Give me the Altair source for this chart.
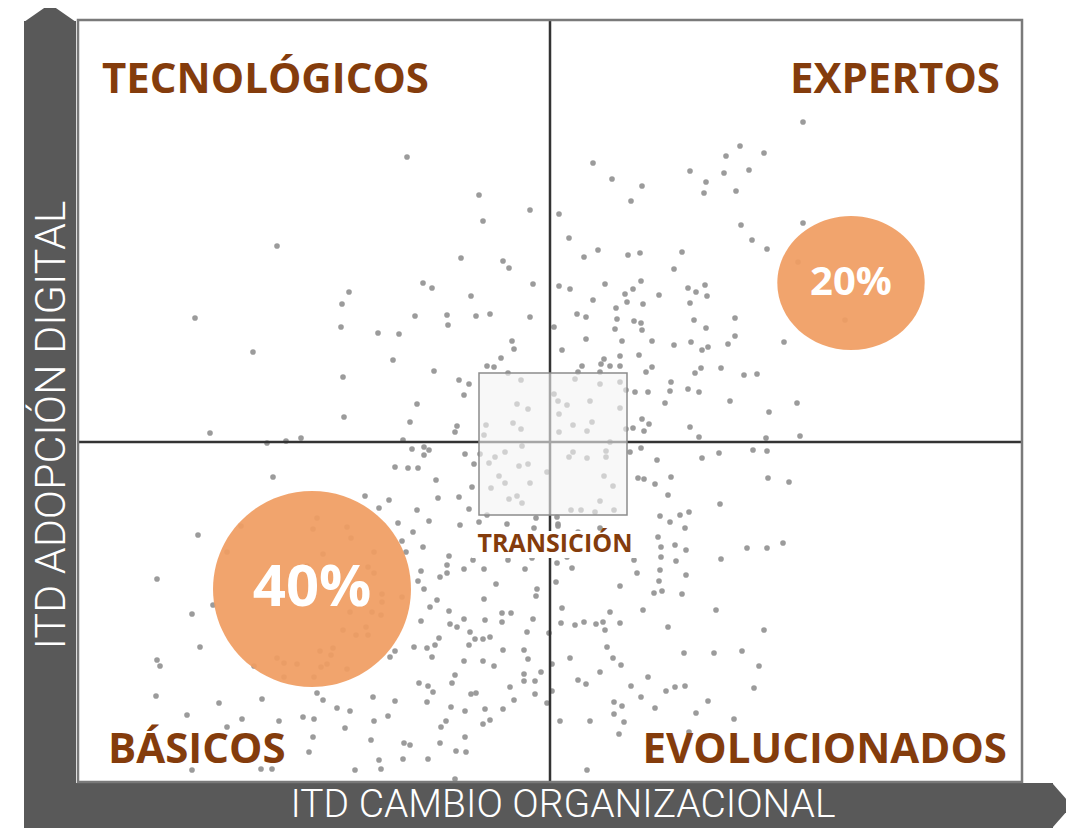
import altair as alt
import pandas as pd

# ---- Empresas: (ITD cambio organizacional, ITD adopción digital) ----
fila1_izq = [(32.9, 62.5), (40.1, 58.7), (45.2, 57.2), (40.5, 56.1), (19.9, 53.6), (38.3, 52.4), (42.5, 52.1), (43.1, 51.4)]
fila1_der = [(72.5, 66.0), (66.2, 63.6), (64.8, 62.6), (68.6, 62.9), (51.5, 61.9), (61.2, 61.1), (64.6, 60.9), (67.1, 61.2),
             (53.4, 60.3), (62.8, 60.0), (56.4, 59.6), (62.6, 58.9), (65.8, 59.1), (55.3, 58.1), (48.1, 56.8), (66.3, 55.7),
             (72.5, 55.9), (49.1, 54.4), (67.4, 54.2), (50.6, 52.5), (52.0, 53.2), (55.0, 52.7), (56.2, 52.9), (60.4, 53.0),
             (68.9, 53.3), (72.0, 52.0), (59.6, 51.3)]
fila2_izq = [(34.5, 49.9), (35.4, 49.4), (27.1, 49.0), (45.5, 49.8), (39.3, 48.6), (26.4, 47.8), (11.7, 46.4), (33.7, 46.6), (36.9, 46.7), (37.0, 45.7),
             (39.8, 46.6), (41.2, 46.8), (45.2, 46.5), (26.3, 45.5), (30.0, 44.9), (32.1, 44.8), (43.4, 44.1), (43.6, 43.3), (17.5, 43.0), (31.5, 42.2),
             (42.3, 42.4), (40.9, 41.6), (41.6, 41.5), (35.6, 41.1), (26.5, 40.5), (38.1, 40.2), (39.1, 39.8), (43.0, 40.9), (38.6, 38.7), (44.3, 40.2),
             (33.9, 37.8), (43.9, 37.8), (45.0, 37.3), (26.6, 36.5), (33.2, 36.0), (43.5, 35.9), (40.8, 35.7), (44.3, 35.3), (37.9, 35.6), (37.7, 35.0),
             (40.6, 34.7), (13.2, 34.9), (18.9, 33.9), (20.8, 34.1), (22.3, 34.4), (32.5, 34.2), (44.4, 33.6), (33.4, 33.3), (34.6, 33.5), (35.1, 33.2),
             (34.6, 32.7), (38.7, 32.8), (40.2, 32.8), (41.7, 32.5), (42.7, 33.0), (39.6, 31.8), (41.1, 31.9), (44.1, 31.6), (45.0, 31.8), (31.7, 31.5),
             (33.0, 31.4), (34.0, 31.4), (19.5, 30.5), (46.9, 31.0), (42.1, 30.6), (42.7, 29.9), (45.2, 29.9), (35.8, 30.2), (39.4, 29.5), (41.3, 29.4),
             (28.7, 28.6), (31.1, 28.2), (36.0, 28.4), (38.1, 28.5), (43.1, 28.3), (43.9, 28.6), (44.4, 27.9), (30.1, 27.4), (33.9, 27.2), (39.1, 27.3),
             (40.9, 26.7), (45.8, 26.4), (23.9, 26.4), (32.0, 25.9), (35.1, 26.1), (40.1, 26.0), (42.9, 25.8), (38.2, 25.7)]
fila2_der = [(48.1, 49.6), (49.2, 49.3), (52.7, 49.8), (56.3, 50.1), (55.5, 49.3), (54.7, 48.8), (58.1, 48.7), (61.0, 49.4), (61.8, 49.0), (62.7, 49.7),
             (62.9, 48.6), (51.5, 48.2), (54.9, 48.0), (56.5, 47.8), (61.2, 47.9), (53.8, 47.4), (49.9, 46.8), (50.8, 46.5), (53.9, 46.3), (55.6, 46.1),
             (56.3, 45.9), (61.6, 46.2), (65.7, 46.4), (47.6, 45.5), (53.7, 45.3), (56.4, 45.2), (62.8, 45.4), (50.8, 44.3), (54.4, 44.1), (57.4, 44.1),
             (59.6, 43.7), (61.3, 44.0), (65.7, 44.6), (65.0, 43.8), (70.6, 44.0), (76.7, 46.2), (48.4, 43.2), (54.2, 42.6), (56.1, 42.7), (62.4, 43.2),
             (63.0, 43.5), (52.6, 42.3), (50.4, 41.6), (52.3, 41.8), (53.2, 41.6), (54.2, 41.6), (50.0, 41.0), (52.2, 41.0), (56.8, 41.0), (57.4, 41.5),
             (62.3, 41.4), (61.7, 40.9), (64.3, 41.4), (66.6, 40.7), (67.9, 40.8), (49.7, 40.3), (52.2, 39.8), (54.2, 40.0), (59.3, 40.0), (54.8, 39.2),
             (55.7, 39.0), (57.0, 39.0), (59.2, 39.1), (61.0, 39.3), (62.1, 39.0), (47.6, 38.8), (48.0, 38.1), (48.9, 37.7), (51.2, 38.1), (54.2, 37.4),
             (58.7, 37.9), (65.2, 38.1), (71.9, 37.9), (48.1, 36.8), (69.1, 37.0), (51.4, 36.0), (49.5, 35.7), (50.9, 35.1), (48.1, 35.0), (54.8, 35.3),
             (55.5, 35.4), (56.4, 36.3), (57.1, 35.8), (56.6, 35.1), (61.2, 35.5), (62.1, 34.5), (68.8, 34.4), (72.2, 34.6), (53.2, 34.0), (49.5, 33.0),
             (49.1, 32.5), (50.9, 32.4), (52.8, 33.1), (52.8, 32.5), (55.2, 33.0), (56.3, 33.4), (57.9, 32.2), (62.4, 32.4), (64.1, 32.9), (67.5, 33.2),
             (68.9, 33.1), (52.6, 30.6), (53.5, 29.6), (56.0, 30.4), (56.6, 30.3), (57.7, 29.8), (59.3, 30.5), (69.0, 30.4), (71.1, 30.0), (59.0, 28.7),
             (52.2, 28.1), (49.3, 27.2), (50.3, 27.2), (51.7, 27.0), (53.6, 27.2), (64.2, 27.8), (47.9, 26.5), (58.2, 26.6), (60.2, 26.7), (61.1, 27.0),
             (59.2, 26.0), (48.0, 25.8)]
fila3_izq = [(12.0, 24.7), (16.3, 25.6), (23.5, 25.3), (26.9, 25.5), (27.3, 24.4), (33.5, 25.0), (45.6, 25.4), (32.4, 24.1), (34.5, 23.5), (32.8, 23.0),
             (14.9, 23.0), (24.5, 22.8), (29.6, 23.0), (37.1, 22.6), (39.5, 22.2), (40.6, 21.3), (38.6, 21.3), (36.9, 21.7), (36.9, 20.9), (36.2, 20.5),
             (34.3, 21.1), (34.0, 20.1), (34.6, 19.3), (43.0, 22.2), (45.4, 22.4), (44.7, 21.3), (41.8, 19.8), (45.9, 19.3), (45.8, 18.6), (22.9, 21.6),
             (29.0, 21.5), (29.6, 20.9), (7.9, 20.3), (30.4, 18.8), (30.4, 18.0), (32.4, 18.5), (35.9, 18.2), (40.6, 18.3), (35.2, 17.5), (37.1, 17.1),
             (11.4, 16.8), (13.5, 17.7), (27.2, 17.0), (29.4, 17.0), (30.3, 16.7), (42.4, 16.9), (43.3, 16.9), (34.3, 16.1), (37.2, 15.8), (37.9, 15.5),
             (38.6, 16.3), (40.7, 16.2), (42.4, 16.0), (45.5, 16.3), (26.5, 15.2), (28.8, 15.5), (27.8, 14.7), (29.0, 14.7), (39.2, 15.0), (44.9, 15.0),
             (36.1, 14.4), (39.7, 14.3), (40.5, 14.3), (41.2, 14.5), (39.1, 13.7), (35.7, 13.7), (34.9, 13.4), (33.6, 13.5), (12.2, 13.5), (25.5, 13.4),
             (24.2, 13.1), (25.3, 12.7), (31.7, 13.1), (31.2, 12.5), (35.4, 12.5), (42.5, 13.2), (44.6, 13.2), (45.0, 12.3), (47.1, 14.9), (7.9, 12.2),
             (8.2, 11.6), (19.9, 12.4), (20.6, 11.9), (21.9, 11.8), (24.3, 11.5), (24.9, 11.8), (26.9, 11.3), (17.6, 11.6), (20.6, 10.5), (23.6, 10.5),
             (38.6, 12.1), (40.5, 12.1), (41.6, 11.6), (37.7, 10.7), (37.4, 9.9), (34.1, 9.9), (35.0, 9.6), (35.5, 9.0), (44.6, 10.8), (46.3, 11.0),
             (44.6, 10.1), (45.7, 10.1), (43.2, 9.5), (45.7, 8.8), (43.6, 8.2), (46.9, 7.9), (39.8, 8.9), (39.3, 8.8), (7.8, 8.6), (23.9, 8.9),
             (24.5, 8.2), (29.5, 8.5), (31.7, 8.1), (34.9, 8.0), (37.3, 7.5), (38.7, 7.1), (40.7, 7.3), (42.5, 7.3), (18.4, 8.3), (14.1, 7.9),
             (10.9, 6.7), (16.4, 6.3), (20.1, 6.1), (22.5, 6.5), (23.6, 6.3), (25.9, 7.4), (27.2, 7.1), (29.6, 6.1), (31.0, 6.6), (14.9, 5.5),
             (26.7, 5.4), (36.8, 6.1), (36.3, 5.5), (40.5, 5.8), (41.2, 6.2), (23.5, 4.5), (29.3, 4.2), (32.6, 3.9), (33.2, 3.7), (36.2, 3.9),
             (38.7, 4.5), (23.1, 3.0), (37.8, 3.1), (38.8, 3.0), (32.5, 2.3), (35.0, 2.3), (30.1, 2.2), (30.3, 1.3), (27.7, 1.2), (11.4, 1.2),
             (18.3, 1.3), (19.4, 1.3), (37.7, 0.3)]
fila3_der = [(48.0, 25.6), (50.0, 25.0), (52.2, 25.4), (60.7, 25.4), (58.0, 24.5), (58.3, 23.5), (59.7, 23.7), (60.8, 23.2), (66.9, 23.4), (68.9, 23.4),
             (70.5, 23.9), (48.9, 22.5), (50.6, 22.7), (51.5, 22.7), (47.9, 21.9), (49.4, 21.4), (55.6, 22.2), (58.3, 22.5), (59.8, 22.1), (64.3, 22.3),
             (55.9, 20.9), (58.2, 21.2), (60.8, 20.7), (47.8, 20.0), (54.2, 19.6), (58.1, 20.1), (57.6, 18.9), (58.4, 19.1), (60.4, 18.8), (48.4, 17.4),
             (53.2, 17.0), (56.5, 17.2), (63.8, 17.2), (48.3, 15.9), (49.7, 15.7), (50.6, 16.0), (51.8, 15.8), (52.5, 16.0), (52.7, 15.2), (54.2, 15.9),
             (59.0, 15.5), (68.6, 15.2), (52.9, 13.5), (49.2, 12.4), (53.5, 12.4), (54.3, 11.7), (60.6, 12.9), (63.6, 12.9), (66.4, 13.1), (68.1, 11.6),
             (47.4, 11.8), (52.2, 11.0), (57.0, 10.5), (50.0, 10.2), (50.8, 9.8), (55.3, 9.6), (59.7, 9.5), (60.7, 9.6), (58.8, 9.1), (67.6, 9.4),
             (47.4, 9.1), (56.3, 8.5), (53.6, 8.0), (54.4, 7.6), (63.0, 8.1), (57.7, 7.4), (53.6, 6.8), (61.8, 6.9), (48.2, 6.1), (51.2, 6.1),
             (54.6, 6.0), (65.6, 6.3), (54.1, 4.8), (61.1, 5.0), (50.9, 1.2)]

# ---- Ejes / cuadrantes ----
dominio_x = [0, 94.4]
dominio_y = [0, 76.2]
corte_x = 47.2
corte_y = 34.0
marcas_y = [13.4, 27.2, 41.0, 54.7, 68.6]

# zona de transición
transicion = {"x": 40.1, "x2": 54.9, "y": 40.9, "y2": 26.7}

# cuadrantes: etiqueta, x, y
cuad_izq = [("TECNOLÓGICOS", 2.4, 68.9), ("BÁSICOS", 3.0, 1.9)]
cuad_der = [("EXPERTOS", 92.2, 68.9), ("EVOLUCIONADOS", 92.9, 1.9)]

# burbujas de porcentaje: texto, x, y
burbujas = [("20%", 77.3, 49.9), ("40%", 23.4, 19.3)]

# ---------------------------------------------------------------
rows = []
for grupo in (fila1_izq, fila1_der, fila2_izq, fila2_der, fila3_izq, fila3_der):
    for cx, cy in grupo:
        rows.append({"cambio": cx, "adopcion": cy})
df = pd.DataFrame(rows)

W, H = 944, 762
BROWN = "#843c0c"
ORANGE = "#f09d62"
DARK = "#595959"
LABEL_FONT = "Open Sans"
TITLE_FONT = "Roboto"

xs = alt.Scale(domain=dominio_x, nice=False, zero=False)
ys = alt.Scale(domain=dominio_y, nice=False, zero=False)
one = alt.Data(values=[{}])

X = lambda f: alt.X(f, type="quantitative", scale=xs, axis=None)
Y = lambda f: alt.Y(f, type="quantitative", scale=ys, axis=None)

points = alt.Chart(df).mark_circle(size=32, color="#969696", opacity=0.95).encode(
    x=X("cambio"),
    y=alt.Y("adopcion:Q", scale=ys,
            axis=alt.Axis(values=marcas_y, labels=False, domain=False, grid=False,
                          ticks=True, tickSize=4, tickColor="#333333", tickWidth=1.5, title=None)),
)

vline = alt.Chart(pd.DataFrame({"x": [corte_x]})).mark_rule(color="#333333", strokeWidth=2.5).encode(x=X("x"))
hline = alt.Chart(pd.DataFrame({"y": [corte_y]})).mark_rule(color="#333333", strokeWidth=2.5).encode(y=Y("y"))

box = alt.Chart(pd.DataFrame([transicion])).mark_rect(
    fill="#f4f4f4", fillOpacity=0.6, stroke="#8c8c8c", strokeWidth=1.5
).encode(x=X("x"), x2="x2", y=Y("y"), y2="y2")

frame = alt.Chart(one).mark_rect(fillOpacity=0, stroke="#7a7a7a", strokeWidth=2.5).encode(
    x=alt.value(0), x2=alt.value(W), y=alt.value(0), y2=alt.value(H))

trans_bg = alt.Chart(pd.DataFrame({"x": [39.4], "x2": [56.2], "y": [25.1], "y2": [22.4]})).mark_rect(
    fill="white").encode(x=X("x"), x2="x2", y=Y("y"), y2="y2")
trans_txt = alt.Chart(pd.DataFrame({"t": ["TRANSICIÓN"], "x": [47.7], "y": [23.0]})).mark_text(
    font=LABEL_FONT, fontWeight="bold", fontSize=25, color=BROWN, align="center", baseline="alphabetic"
).encode(x=X("x"), y=Y("y"), text="t:N")

bub_df = pd.DataFrame(burbujas, columns=["t", "x", "y"])
ell20 = alt.Chart(bub_df.iloc[[0]]).mark_point(
    shape="M-1.1,0A1.1,1,0,1,1,1.1,0A1.1,1,0,1,1,-1.1,0Z", size=134 * 134,
    filled=True, fill=ORANGE, fillOpacity=0.93, strokeWidth=0
).encode(x=X("x"), y=Y("y"))
ell40 = alt.Chart(bub_df.iloc[[1]]).mark_point(
    shape="M-1.01,0A1.01,1,0,1,1,1.01,0A1.01,1,0,1,1,-1.01,0Z", size=196 * 196,
    filled=True, fill=ORANGE, fillOpacity=0.93, strokeWidth=0
).encode(x=X("x"), y=Y("y"))
t20 = alt.Chart(bub_df.iloc[[0]]).mark_text(
    font=LABEL_FONT, fontWeight="bold", fontSize=40, color="white", align="center", baseline="middle"
).encode(x=X("x"), y=Y("y"), text="t:N")
t40 = alt.Chart(bub_df.iloc[[1]]).mark_text(
    font=LABEL_FONT, fontWeight="bold", fontSize=58, color="white", align="center", baseline="middle"
).encode(x=X("x"), y=Y("y"), text="t:N")

ql = alt.Chart(pd.DataFrame(cuad_izq, columns=["t", "x", "y"])).mark_text(
    font=LABEL_FONT, fontWeight="bold", fontSize=42, color=BROWN, align="left", baseline="alphabetic"
).encode(x=X("x"), y=Y("y"), text="t:N")
qr = alt.Chart(pd.DataFrame(cuad_der, columns=["t", "x", "y"])).mark_text(
    font=LABEL_FONT, fontWeight="bold", fontSize=42, color=BROWN, align="right", baseline="alphabetic"
).encode(x=X("x"), y=Y("y"), text="t:N")

# ---- flechas de los ejes (decoración fuera del área) ----
v_shaft = alt.Chart(one).mark_rect(color=DARK).encode(
    x=alt.value(-54), x2=alt.value(-2), y=alt.value(1), y2=alt.value(812))
v_head = alt.Chart(one).mark_point(
    shape="M-1,0.35L0,-0.35L1,0.35Z", size=52 * 52, filled=True, fill=DARK, opacity=1, strokeWidth=0
).encode(x=alt.value(-28), y=alt.value(-7))
h_shaft = alt.Chart(one).mark_rect(color=DARK).encode(
    x=alt.value(-54), x2=alt.value(975), y=alt.value(763), y2=alt.value(812))
h_head = alt.Chart(one).mark_point(
    shape="M-0.44,-1L0.44,0L-0.44,1Z", size=45 * 45, filled=True, fill=DARK, opacity=1, strokeWidth=0
).encode(x=alt.value(984), y=alt.value(785.5))

x_title = alt.Chart(one).mark_text(
    text="ITD CAMBIO ORGANIZACIONAL", font=TITLE_FONT, fontWeight=300, fontSize=39, color="white",
    align="center", baseline="alphabetic"
).encode(x=alt.value(485), y=alt.value(797))
y_title = alt.Chart(one).mark_text(
    text="ITD ADOPCIÓN DIGITAL", font=TITLE_FONT, fontWeight=300, fontSize=43, color="white",
    align="center", baseline="alphabetic", angle=270
).encode(x=alt.value(-13), y=alt.value(405))

chart = alt.layer(
    v_shaft, v_head, h_shaft, h_head,
    points, vline, hline, box, frame, ell20, ell40, t20, t40,
    trans_bg, trans_txt, ql, qr, x_title, y_title,
).properties(
    width=W, height=H,
    autosize=alt.AutoSizeParams(type="none"),
    padding={"left": 70, "top": 12, "right": 44, "bottom": 46},
).configure_view(strokeWidth=0).configure(background="white")

chart.save("out.html", embed_options={"renderer": "svg", "actions": False})
